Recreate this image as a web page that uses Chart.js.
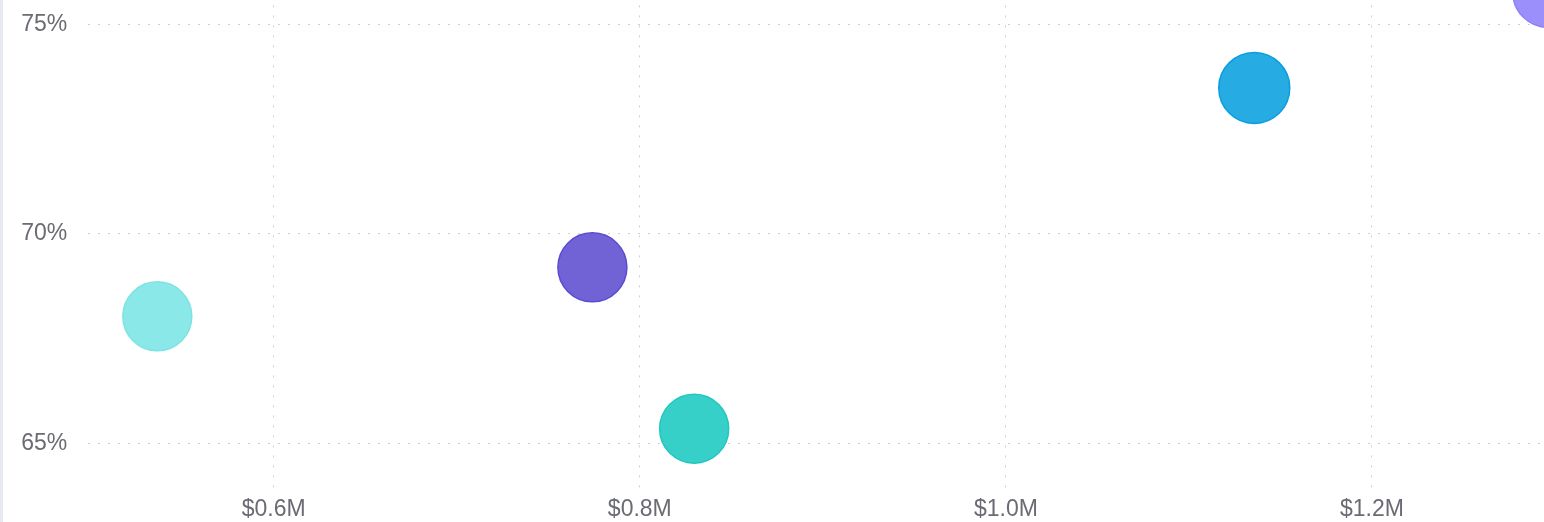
<!DOCTYPE html>
<html>
<head>
<meta charset="utf-8">
<title>Revenue vs margin</title>
<script src="https://cdn.jsdelivr.net/npm/chart.js@4.4.0/dist/chart.umd.min.js"></script>
<style>
  html, body { margin: 0; padding: 0; background: #fff; overflow: hidden; }
  #frame { position: relative; width: 1544px; height: 522px; overflow: hidden; }
  #plot { position: absolute; left: 0; top: 0; width: 1555px; height: 522px; }
  #edge { position: absolute; left: 0; top: 0; width: 3px; height: 522px; background: #e6eaef; }
</style>
</head>
<body>
<div id="frame">
  <div id="plot"><canvas id="bubbleChart"></canvas></div>
  <div id="edge"></div>
</div>
<script>
// =======================
// Chart data
// =======================
const segments = ["Segment A", "Segment B", "Segment C", "Segment D", "Segment E"];
const revenueM = [0.5364, 0.7741, 0.8297, 1.1357, 1.2963];   // x, $M
const marginPct = [68.03, 69.20, 65.35, 73.48, 75.77];       // y, %
const bubbleR = [34.5, 34.5, 34.5, 35.5, 35.5];              // bubble size

const xTicks = [0.6, 0.8, 1.0, 1.2];
const yTicks = [65, 70, 75];

const fillColors = ["#8ae9e8", "#7163d6", "#37d0c9", "#26abe3", "#9b8ffb"];
const edgeColors = ["#7ce3e3", "#5a4bd1", "#1fc7be", "#0a9ee0", "#8e80f8"];

// =======================
// Shared styles
// =======================
const labelFont = { family: "'Liberation Sans', Arial, sans-serif", size: 23 };
const labelColor = "#6a6b73";
const gridStyle = {
  color: "#cfcfdc",
  lineWidth: 1,
  drawTicks: false
};

function buildPoints() {
  return segments.map((name, i) => ({
    x: revenueM[i],
    y: marginPct[i],
    r: bubbleR[i]
  }));
}

// =======================
// Bubble chart
// =======================
function loadBubbleChart() {
  const canvas = document.getElementById("bubbleChart");
  if (!canvas) return;

  new Chart(canvas, {
    type: "bubble",
    data: {
      datasets: [{
        label: "Segments",
        data: buildPoints(),
        backgroundColor: fillColors,
        borderColor: edgeColors,
        borderWidth: 1.5,
        clip: false
      }]
    },
    options: {
      responsive: true,
      maintainAspectRatio: false,
      animation: false,
      layout: {
        autoPadding: false,
        padding: { top: 5.4, left: 0, right: 0, bottom: 0 }
      },
      plugins: {
        legend: { display: false },
        tooltip: { enabled: false }
      },
      scales: {
        x: {
          type: "linear",
          min: 0.4987,
          max: 1.3,
          border: { display: false, dash: [2, 8] },
          grid: gridStyle,
          afterBuildTicks: scale => { scale.ticks = xTicks.map(v => ({ value: v })); },
          afterFit: scale => {
            scale.height = 32.6;
            scale.paddingLeft = 0;
            scale.paddingRight = 0;
          },
          ticks: {
            color: labelColor,
            font: labelFont,
            padding: 6,
            maxRotation: 0,
            callback: v => `$${Number(v).toFixed(1)}M`
          }
        },
        y: {
          type: "linear",
          min: 63.9,
          max: 75.45,
          border: { display: false, dash: [2, 8] },
          grid: gridStyle,
          afterBuildTicks: scale => { scale.ticks = yTicks.map(v => ({ value: v })); },
          afterFit: scale => {
            scale.width = 88.3;
            scale.paddingTop = 0;
            scale.paddingBottom = 0;
          },
          ticks: {
            color: labelColor,
            font: labelFont,
            padding: 21,
            callback: v => `${v}%`
          }
        }
      }
    }
  });
}

document.addEventListener('DOMContentLoaded', function() {
  loadBubbleChart();
});
</script>
</body>
</html>
